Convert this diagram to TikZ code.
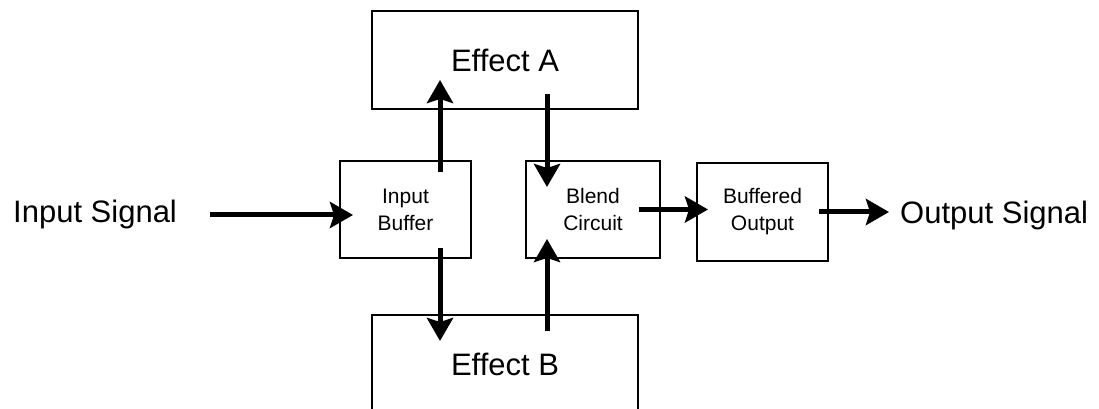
\documentclass[tikz,border=0pt]{standalone}
\usepackage{fontspec}
\setmainfont{Liberation Sans}
\usetikzlibrary{arrows.meta, calc}

\begin{document}
\begin{tikzpicture}[x=1pt, y=1pt,
  block/.style={draw, line width=2pt, align=center, inner sep=0pt},
  small/.style={font=\fontsize{21}{27}\selectfont},
  big/.style={font=\fontsize{31}{36}\selectfont},
  flow/.style={line width=5pt, -{Stealth[length=23pt, width=26pt, inset=4pt]}}]
  \useasboundingbox (0, 0) rectangle (1099, 409);
  \clip (0, 0) rectangle (1099, 409);

  % blocks
  \node[block, big, minimum width=266, minimum height=98] (effA) at (505, 349) {Effect A};
  \node[block, big, minimum width=266, minimum height=98] (effB) at (505, 45) {Effect B};
  \node[block, small, minimum width=131, minimum height=97] (inbuf) at (405.5, 199.5) {Input\\Buffer};
  \node[block, small, minimum width=134, minimum height=97] (blend) at (593, 199.5) {Blend\\Circuit};
  \node[block, small, minimum width=131, minimum height=98] (bufout) at (762.5, 197) {Buffered\\Output};

  % signals
  \node[big, inner sep=0pt, anchor=base west] (insig) at (13, 186) {Input Signal};
  \node[big, inner sep=0pt, anchor=base west] (outsig) at (900, 185) {Output Signal};

  % connections
  \draw[flow] ($(insig.east)+(33, 0)$) -- ($(inbuf.west |- insig.east)+(14, 0)$);
  \draw[flow] ($(inbuf.north)+(34.5, -12)$) -- ($(effA.south -| inbuf.north)+(34.5, 30)$);
  \draw[flow] ($(inbuf.south)+(34.5, 11)$) -- ($(effB.north -| inbuf.south)+(34.5, -27)$);
  \draw[flow] ($(effA.south)+(42, 16)$) -- ($(blend.north -| effA.south)+(42, -27)$);
  \draw[flow] ($(effB.north)+(42, -17)$) -- ($(blend.south -| effB.north)+(42, 20)$);
  \draw[flow] ($(blend.east)+(-22, 0)$) -- ($(bufout.west |- blend.east)+(12, 0)$);
  \draw[flow] ($(bufout.east)+(-10, 0)$) -- ($(outsig.west |- bufout.east)+(-11, 0)$);
\end{tikzpicture}
\end{document}
